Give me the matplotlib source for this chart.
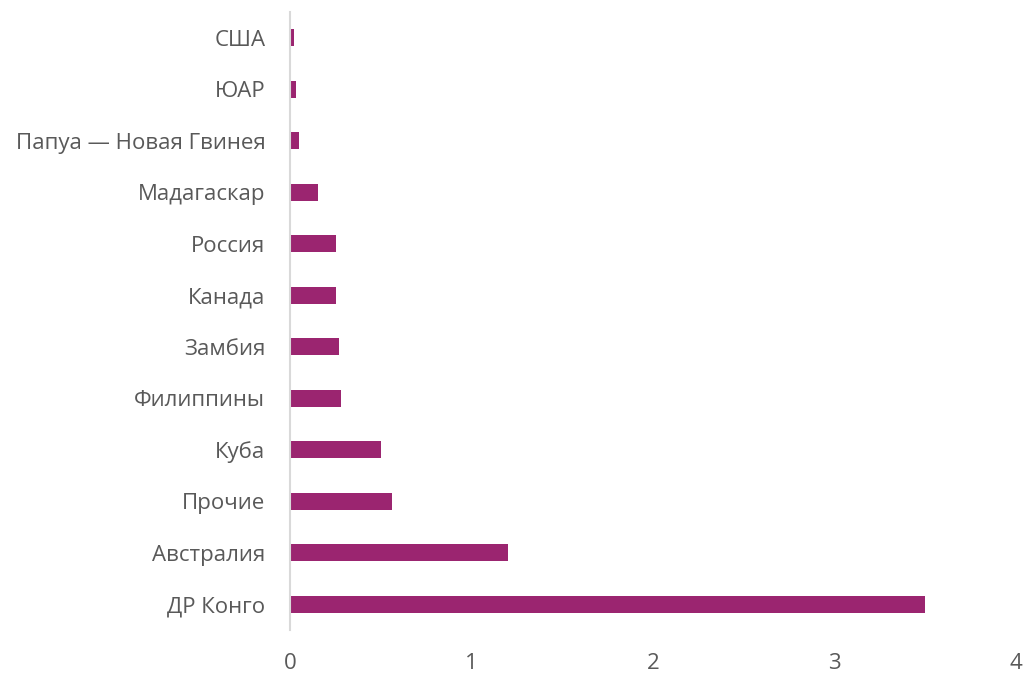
import matplotlib.pyplot as plt

# данные (сверху вниз на графике -> снизу вверх в списке)
countries = ['ДР Конго', 'Австралия', 'Прочие', 'Куба', 'Филиппины', 'Замбия',
             'Канада', 'Россия', 'Мадагаскар', 'Папуа — Новая Гвинея', 'ЮАР', 'США']
values = [3.5, 1.2, 0.56, 0.5, 0.28, 0.27, 0.25, 0.25, 0.15, 0.05, 0.03, 0.02]

plt.rcParams['font.family'] = ['Open Sans', 'DejaVu Sans']

fig = plt.figure(figsize=(10.26, 6.75), dpi=100)
ax = fig.add_axes([0.283, 0.067, 0.707, 0.915])

ax.barh(range(len(countries)), values, height=0.33, color='#9B2570')

ax.set_xlim(0, 4)
ax.set_ylim(-0.5, len(countries) - 0.5)
ax.set_xticks([0, 1, 2, 3, 4])
ax.set_yticks(range(len(countries)))
ax.set_yticklabels(countries)

for s in ['top', 'right', 'bottom']:
    ax.spines[s].set_visible(False)
ax.spines['left'].set_color('#D9D9D9')
ax.spines['left'].set_linewidth(1.5)

ax.tick_params(axis='both', length=0, labelsize=16, labelcolor='#595959')
ax.tick_params(axis='x', pad=17)
ax.tick_params(axis='y', pad=18)

plt.savefig('out.png', dpi=100)
